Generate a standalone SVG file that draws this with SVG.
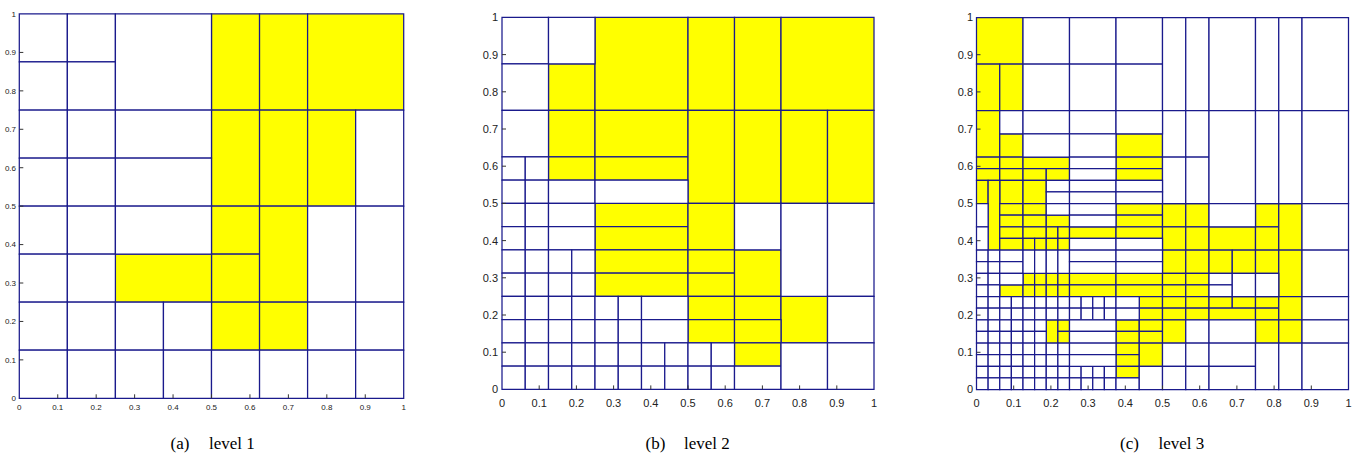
<svg xmlns="http://www.w3.org/2000/svg" width="1362" height="456" viewBox="0 0 1362 456">
<style>
.m rect{fill:#fff;stroke:#1a1a8c;stroke-width:1.25;vector-effect:non-scaling-stroke}
.m rect.y{fill:#ffff00}
.tk{stroke:#333;stroke-width:1;fill:none}
.la{font-family:"Liberation Sans",Arial,sans-serif;font-size:8px;fill:#222}
.lb{font-family:"Liberation Sans",Arial,sans-serif;font-size:11px;fill:#222}
.cap{font-family:"Liberation Serif","Times New Roman",serif;font-size:17px;fill:#000}
</style>
<rect width="1362" height="456" fill="#fff"/>
<!-- Panel a -->
<g id="panel-a">
<g class="m" transform="translate(19.3,398.3) scale(48.05,-48.05)">
<rect class="y" x="4" y="6" width="1" height="2"/><rect class="y" x="5" y="6" width="1" height="2"/><rect class="y" x="6" y="6" width="2" height="2"/>
<rect class="y" x="4" y="4" width="1" height="2"/><rect class="y" x="5" y="4" width="1" height="2"/><rect class="y" x="6" y="4" width="1" height="2"/>
<rect class="y" x="4" y="3" width="1" height="1"/><rect class="y" x="4" y="2" width="1" height="1"/><rect class="y" x="5" y="2" width="1" height="2"/>
<rect class="y" x="4" y="1" width="1" height="1"/><rect class="y" x="5" y="1" width="1" height="1"/><rect class="y" x="2" y="2" width="2" height="1"/>
<rect x="0" y="7" width="1" height="1"/><rect x="1" y="7" width="1" height="1"/><rect x="0" y="6" width="1" height="1"/><rect x="1" y="6" width="1" height="1"/><rect x="2" y="6" width="2" height="2"/>
<rect x="0" y="5" width="1" height="1"/><rect x="1" y="5" width="1" height="1"/><rect x="2" y="5" width="2" height="1"/>
<rect x="0" y="4" width="1" height="1"/><rect x="1" y="4" width="1" height="1"/><rect x="2" y="4" width="2" height="1"/>
<rect x="7" y="4" width="1" height="2"/>
<rect x="0" y="3" width="1" height="1"/><rect x="1" y="3" width="1" height="1"/><rect x="2" y="3" width="2" height="1"/>
<rect x="0" y="2" width="1" height="1"/><rect x="1" y="2" width="1" height="1"/>
<rect x="6" y="2" width="1" height="2"/><rect x="7" y="2" width="1" height="2"/>
<rect x="0" y="1" width="1" height="1"/><rect x="1" y="1" width="1" height="1"/><rect x="2" y="1" width="1" height="1"/><rect x="3" y="1" width="1" height="1"/><rect x="6" y="1" width="1" height="1"/><rect x="7" y="1" width="1" height="1"/>
<rect x="0" y="0" width="1" height="1"/><rect x="1" y="0" width="1" height="1"/><rect x="2" y="0" width="1" height="1"/><rect x="3" y="0" width="1" height="1"/><rect x="4" y="0" width="1" height="1"/><rect x="5" y="0" width="1" height="1"/><rect x="6" y="0" width="1" height="1"/><rect x="7" y="0" width="1" height="1"/>
</g>
<path class="tk" d="M57.74 398.3v-4M96.18 398.3v-4M134.62 398.3v-4M173.06 398.3v-4M211.5 398.3v-4M249.94 398.3v-4M288.38 398.3v-4M326.82 398.3v-4M365.26 398.3v-4M19.3 359.87h4M19.3 321.44h4M19.3 283.01h4M19.3 244.58h4M19.3 206.15h4M19.3 167.72h4M19.3 129.29h4M19.3 90.86h4M19.3 52.43h4"/>
<g class="la" text-anchor="end">
<text x="16" y="401">0</text><text x="16" y="362.6">0.1</text><text x="16" y="324.2">0.2</text><text x="16" y="285.8">0.3</text><text x="16" y="247.3">0.4</text><text x="16" y="208.9">0.5</text><text x="16" y="170.5">0.6</text><text x="16" y="132">0.7</text><text x="16" y="93.6">0.8</text><text x="16" y="55.2">0.9</text><text x="16" y="16.8">1</text>
</g>
<g class="la" text-anchor="middle">
<text x="19.3" y="409.5">0</text><text x="57.74" y="409.5">0.1</text><text x="96.18" y="409.5">0.2</text><text x="134.62" y="409.5">0.3</text><text x="173.06" y="409.5">0.4</text><text x="211.5" y="409.5">0.5</text><text x="249.94" y="409.5">0.6</text><text x="288.38" y="409.5">0.7</text><text x="326.82" y="409.5">0.8</text><text x="365.26" y="409.5">0.9</text><text x="403.7" y="409.5">1</text>
</g>
<text class="cap" x="170.5" y="449">(a) <tspan x="209">level 1</tspan></text>
</g>
<!-- Panel b -->
<g id="panel-b">
<g class="m" transform="translate(502,389.4) scale(23.25,-23.25)">
<rect class="y" x="2" y="12" width="2" height="2"/><rect class="y" x="4" y="12" width="4" height="4"/><rect class="y" x="8" y="12" width="2" height="4"/><rect class="y" x="10" y="12" width="2" height="4"/><rect class="y" x="12" y="12" width="4" height="4"/>
<rect class="y" x="2" y="10" width="2" height="2"/><rect class="y" x="2" y="9" width="2" height="1"/><rect class="y" x="4" y="10" width="4" height="2"/><rect class="y" x="4" y="9" width="4" height="1"/>
<rect class="y" x="8" y="8" width="2" height="4"/><rect class="y" x="10" y="8" width="2" height="4"/><rect class="y" x="12" y="8" width="2" height="4"/><rect class="y" x="14" y="8" width="2" height="4"/>
<rect class="y" x="4" y="7" width="4" height="1"/><rect class="y" x="4" y="6" width="4" height="1"/><rect class="y" x="4" y="5" width="4" height="1"/><rect class="y" x="4" y="4" width="4" height="1"/>
<rect class="y" x="8" y="6" width="2" height="2"/><rect class="y" x="8" y="5" width="2" height="1"/><rect class="y" x="8" y="4" width="2" height="1"/><rect class="y" x="10" y="4" width="2" height="2"/>
<rect class="y" x="8" y="3" width="2" height="1"/><rect class="y" x="10" y="3" width="2" height="1"/><rect class="y" x="12" y="2" width="2" height="2"/><rect class="y" x="8" y="2" width="2" height="1"/><rect class="y" x="10" y="2" width="2" height="1"/><rect class="y" x="10" y="1" width="2" height="1"/>
<rect x="0" y="14" width="2" height="2"/><rect x="2" y="14" width="2" height="2"/><rect x="0" y="12" width="2" height="2"/><rect x="0" y="10" width="2" height="2"/>
<rect x="0" y="9" width="1" height="1"/><rect x="1" y="9" width="1" height="1"/><rect x="0" y="8" width="1" height="1"/><rect x="1" y="8" width="1" height="1"/><rect x="2" y="8" width="2" height="1"/><rect x="4" y="8" width="4" height="1"/>
<rect x="0" y="7" width="1" height="1"/><rect x="1" y="7" width="1" height="1"/><rect x="0" y="6" width="1" height="1"/><rect x="1" y="6" width="1" height="1"/><rect x="0" y="5" width="1" height="1"/><rect x="1" y="5" width="1" height="1"/><rect x="0" y="4" width="1" height="1"/><rect x="1" y="4" width="1" height="1"/>
<rect x="2" y="7" width="2" height="1"/><rect x="2" y="6" width="2" height="1"/><rect x="2" y="5" width="1" height="1"/><rect x="3" y="5" width="1" height="1"/><rect x="2" y="4" width="1" height="1"/><rect x="3" y="4" width="1" height="1"/>
<rect x="10" y="6" width="2" height="2"/><rect x="12" y="4" width="2" height="4"/><rect x="14" y="4" width="2" height="4"/>
<rect x="0" y="3" width="1" height="1"/><rect x="1" y="3" width="1" height="1"/><rect x="2" y="3" width="1" height="1"/><rect x="3" y="3" width="1" height="1"/><rect x="4" y="3" width="1" height="1"/><rect x="5" y="3" width="1" height="1"/><rect x="6" y="3" width="2" height="1"/>
<rect x="0" y="2" width="1" height="1"/><rect x="1" y="2" width="1" height="1"/><rect x="2" y="2" width="1" height="1"/><rect x="3" y="2" width="1" height="1"/><rect x="4" y="2" width="1" height="1"/><rect x="5" y="2" width="1" height="1"/><rect x="6" y="2" width="2" height="1"/>
<rect x="14" y="2" width="2" height="2"/>
<rect x="0" y="1" width="1" height="1"/><rect x="1" y="1" width="1" height="1"/><rect x="2" y="1" width="1" height="1"/><rect x="3" y="1" width="1" height="1"/><rect x="4" y="1" width="1" height="1"/><rect x="5" y="1" width="1" height="1"/><rect x="6" y="1" width="1" height="1"/><rect x="7" y="1" width="1" height="1"/><rect x="8" y="1" width="1" height="1"/><rect x="9" y="1" width="1" height="1"/>
<rect x="0" y="0" width="1" height="1"/><rect x="1" y="0" width="1" height="1"/><rect x="2" y="0" width="1" height="1"/><rect x="3" y="0" width="1" height="1"/><rect x="4" y="0" width="1" height="1"/><rect x="5" y="0" width="1" height="1"/><rect x="6" y="0" width="1" height="1"/><rect x="7" y="0" width="1" height="1"/><rect x="8" y="0" width="1" height="1"/><rect x="9" y="0" width="1" height="1"/><rect x="10" y="0" width="2" height="1"/>
<rect x="12" y="0" width="2" height="2"/><rect x="14" y="0" width="2" height="2"/>
</g>
<path class="tk" d="M539.2 389.4v-4M576.4 389.4v-4M613.6 389.4v-4M650.8 389.4v-4M688 389.4v-4M725.2 389.4v-4M762.4 389.4v-4M799.6 389.4v-4M836.8 389.4v-4M502 352.2h4M502 315h4M502 277.8h4M502 240.6h4M502 203.4h4M502 166.2h4M502 129h4M502 91.8h4M502 54.6h4"/>
<g class="lb" text-anchor="end">
<text x="498" y="393.3">0</text><text x="498" y="356.1">0.1</text><text x="498" y="318.9">0.2</text><text x="498" y="281.7">0.3</text><text x="498" y="244.5">0.4</text><text x="498" y="207.3">0.5</text><text x="498" y="170.1">0.6</text><text x="498" y="132.9">0.7</text><text x="498" y="95.7">0.8</text><text x="498" y="58.5">0.9</text><text x="498" y="21.3">1</text>
</g>
<g class="lb" text-anchor="middle">
<text x="502" y="406.7">0</text><text x="539.2" y="406.7">0.1</text><text x="576.4" y="406.7">0.2</text><text x="613.6" y="406.7">0.3</text><text x="650.8" y="406.7">0.4</text><text x="688" y="406.7">0.5</text><text x="725.2" y="406.7">0.6</text><text x="762.4" y="406.7">0.7</text><text x="799.6" y="406.7">0.8</text><text x="836.8" y="406.7">0.9</text><text x="874" y="406.7">1</text>
</g>
<text class="cap" x="645.5" y="449">(b) <tspan x="684">level 2</tspan></text>
</g>
<!-- Panel c -->
<g id="panel-c">
<g class="m" transform="translate(976.5,389.5) scale(11.625,-11.625)">
<rect class="y" x="0" y="28" width="4" height="4"/><rect class="y" x="0" y="24" width="2" height="4"/><rect class="y" x="2" y="24" width="2" height="4"/>
<rect class="y" x="0" y="20" width="2" height="4"/><rect class="y" x="2" y="20" width="2" height="2"/><rect class="y" x="12" y="20" width="4" height="2"/>
<rect class="y" x="0" y="19" width="2" height="1"/><rect class="y" x="2" y="19" width="2" height="1"/><rect class="y" x="4" y="19" width="4" height="1"/><rect class="y" x="12" y="19" width="4" height="1"/>
<rect class="y" x="0" y="18" width="2" height="1"/><rect class="y" x="2" y="18" width="2" height="1"/><rect class="y" x="4" y="18" width="2" height="1"/><rect class="y" x="6" y="18" width="2" height="1"/><rect class="y" x="12" y="18" width="4" height="1"/>
<rect class="y" x="0" y="16" width="1" height="2"/><rect class="y" x="2" y="16" width="2" height="2"/><rect class="y" x="4" y="16" width="2" height="2"/>
<rect class="y" x="1" y="12" width="1" height="6"/>
<rect class="y" x="2" y="15" width="2" height="1"/><rect class="y" x="2" y="14" width="2" height="1"/><rect class="y" x="2" y="13" width="2" height="1"/><rect class="y" x="2" y="12" width="2" height="1"/>
<rect class="y" x="4" y="15" width="2" height="1"/><rect class="y" x="4" y="14" width="2" height="1"/><rect class="y" x="6" y="14" width="2" height="1"/>
<rect class="y" x="4" y="13" width="2" height="1"/><rect class="y" x="6" y="13" width="1" height="1"/><rect class="y" x="7" y="13" width="1" height="1"/>
<rect class="y" x="4" y="12" width="1" height="1"/><rect class="y" x="5" y="12" width="1" height="1"/><rect class="y" x="6" y="12" width="1" height="1"/><rect class="y" x="7" y="12" width="1" height="1"/>
<rect class="y" x="8" y="13" width="4" height="1"/>
<rect class="y" x="12" y="15" width="4" height="1"/><rect class="y" x="12" y="14" width="4" height="1"/><rect class="y" x="12" y="13" width="4" height="1"/>
<rect class="y" x="16" y="14" width="2" height="2"/><rect class="y" x="16" y="12" width="2" height="2"/><rect class="y" x="18" y="14" width="2" height="2"/><rect class="y" x="18" y="12" width="2" height="2"/>
<rect class="y" x="20" y="12" width="4" height="2"/><rect class="y" x="24" y="14" width="2" height="2"/><rect class="y" x="24" y="12" width="2" height="2"/><rect class="y" x="26" y="12" width="2" height="4"/>
<rect class="y" x="2" y="8" width="2" height="1"/>
<rect class="y" x="4" y="9" width="1" height="1"/><rect class="y" x="5" y="9" width="1" height="1"/><rect class="y" x="6" y="9" width="1" height="1"/><rect class="y" x="7" y="9" width="1" height="1"/>
<rect class="y" x="4" y="8" width="1" height="1"/><rect class="y" x="5" y="8" width="1" height="1"/><rect class="y" x="6" y="8" width="1" height="1"/><rect class="y" x="7" y="8" width="1" height="1"/>
<rect class="y" x="8" y="9" width="4" height="1"/><rect class="y" x="8" y="8" width="4" height="1"/><rect class="y" x="12" y="9" width="4" height="1"/><rect class="y" x="12" y="8" width="4" height="1"/>
<rect class="y" x="16" y="10" width="2" height="2"/><rect class="y" x="16" y="9" width="2" height="1"/><rect class="y" x="16" y="8" width="2" height="1"/>
<rect class="y" x="18" y="10" width="2" height="2"/><rect class="y" x="18" y="9" width="2" height="1"/><rect class="y" x="18" y="8" width="2" height="1"/>
<rect class="y" x="20" y="10" width="2" height="2"/><rect class="y" x="22" y="10" width="2" height="2"/><rect class="y" x="24" y="10" width="2" height="2"/><rect class="y" x="26" y="8" width="2" height="4"/>
<rect class="y" x="6" y="4" width="1" height="2"/><rect class="y" x="7" y="5" width="1" height="1"/><rect class="y" x="7" y="4" width="1" height="1"/>
<rect class="y" x="12" y="5" width="2" height="1"/><rect class="y" x="12" y="4" width="2" height="1"/>
<rect class="y" x="14" y="7" width="2" height="1"/><rect class="y" x="14" y="6" width="2" height="1"/><rect class="y" x="14" y="5" width="2" height="1"/><rect class="y" x="14" y="4" width="2" height="1"/>
<rect class="y" x="16" y="7" width="2" height="1"/><rect class="y" x="16" y="6" width="2" height="1"/><rect class="y" x="16" y="4" width="2" height="2"/>
<rect class="y" x="18" y="7" width="2" height="1"/><rect class="y" x="18" y="6" width="2" height="1"/>
<rect class="y" x="20" y="7" width="2" height="1"/><rect class="y" x="22" y="7" width="2" height="1"/><rect class="y" x="20" y="6" width="4" height="1"/>
<rect class="y" x="24" y="7" width="2" height="1"/><rect class="y" x="24" y="6" width="2" height="1"/><rect class="y" x="24" y="4" width="2" height="2"/>
<rect class="y" x="26" y="6" width="2" height="2"/><rect class="y" x="26" y="4" width="2" height="2"/>
<rect class="y" x="12" y="3" width="2" height="1"/><rect class="y" x="12" y="2" width="2" height="1"/><rect class="y" x="12" y="1" width="2" height="1"/><rect class="y" x="14" y="2" width="2" height="2"/>
<rect x="4" y="28" width="4" height="4"/><rect x="8" y="28" width="4" height="4"/><rect x="12" y="28" width="4" height="4"/><rect x="4" y="24" width="4" height="4"/><rect x="8" y="24" width="4" height="4"/><rect x="12" y="24" width="4" height="4"/>
<rect x="16" y="24" width="2" height="8"/><rect x="18" y="24" width="2" height="8"/><rect x="20" y="24" width="4" height="8"/><rect x="24" y="24" width="2" height="8"/><rect x="26" y="24" width="2" height="8"/><rect x="28" y="24" width="4" height="8"/>
<rect x="16" y="20" width="2" height="4"/><rect x="18" y="20" width="2" height="4"/><rect x="16" y="16" width="2" height="4"/><rect x="18" y="16" width="2" height="4"/><rect x="20" y="16" width="4" height="8"/><rect x="24" y="16" width="2" height="8"/><rect x="26" y="16" width="2" height="8"/><rect x="28" y="16" width="4" height="8"/>
<rect x="2" y="22" width="2" height="2"/><rect x="4" y="22" width="4" height="2"/><rect x="8" y="22" width="4" height="2"/><rect x="12" y="22" width="4" height="2"/><rect x="4" y="20" width="4" height="2"/><rect x="8" y="20" width="4" height="2"/>
<rect x="8" y="19" width="4" height="1"/><rect x="8" y="18" width="4" height="1"/>
<rect x="6" y="17" width="2" height="1"/><rect x="6" y="16" width="2" height="1"/><rect x="8" y="17" width="4" height="1"/><rect x="8" y="16" width="4" height="1"/><rect x="12" y="17" width="4" height="1"/><rect x="12" y="16" width="4" height="1"/>
<rect x="0" y="14" width="1" height="2"/><rect x="0" y="12" width="1" height="2"/><rect x="6" y="15" width="2" height="1"/>
<rect x="8" y="15" width="4" height="1"/><rect x="8" y="14" width="4" height="1"/><rect x="8" y="12" width="4" height="1"/><rect x="12" y="12" width="4" height="1"/>
<rect x="20" y="14" width="4" height="2"/><rect x="28" y="12" width="4" height="4"/>
<rect x="0" y="11" width="1" height="1"/><rect x="1" y="11" width="1" height="1"/><rect x="0" y="10" width="1" height="1"/><rect x="1" y="10" width="1" height="1"/><rect x="0" y="9" width="1" height="1"/><rect x="1" y="9" width="1" height="1"/><rect x="0" y="8" width="1" height="1"/><rect x="1" y="8" width="1" height="1"/>
<rect x="2" y="11" width="2" height="1"/><rect x="2" y="10" width="2" height="1"/><rect x="2" y="9" width="2" height="1"/>
<rect x="4" y="10" width="1" height="2"/><rect x="5" y="10" width="1" height="2"/><rect x="6" y="10" width="1" height="2"/><rect x="7" y="10" width="1" height="2"/>
<rect x="8" y="11" width="4" height="1"/><rect x="8" y="10" width="4" height="1"/><rect x="12" y="11" width="4" height="1"/><rect x="12" y="10" width="4" height="1"/>
<rect x="20" y="9" width="2" height="1"/><rect x="20" y="8" width="2" height="1"/><rect x="22" y="8" width="2" height="2"/><rect x="24" y="8" width="2" height="2"/><rect x="28" y="8" width="4" height="4"/>
<rect x="0" y="7" width="1" height="1"/><rect x="1" y="7" width="1" height="1"/><rect x="2" y="7" width="1" height="1"/><rect x="3" y="7" width="1" height="1"/><rect x="4" y="7" width="1" height="1"/><rect x="5" y="7" width="1" height="1"/><rect x="6" y="7" width="1" height="1"/><rect x="7" y="7" width="1" height="1"/><rect x="8" y="7" width="1" height="1"/><rect x="9" y="7" width="1" height="1"/><rect x="10" y="7" width="1" height="1"/><rect x="11" y="7" width="1" height="1"/>
<rect x="0" y="6" width="1" height="1"/><rect x="1" y="6" width="1" height="1"/><rect x="2" y="6" width="1" height="1"/><rect x="3" y="6" width="1" height="1"/><rect x="4" y="6" width="1" height="1"/><rect x="5" y="6" width="1" height="1"/><rect x="6" y="6" width="1" height="1"/><rect x="7" y="6" width="1" height="1"/><rect x="8" y="6" width="1" height="1"/><rect x="9" y="6" width="1" height="1"/><rect x="10" y="6" width="1" height="1"/><rect x="11" y="6" width="1" height="1"/>
<rect x="0" y="5" width="1" height="1"/><rect x="1" y="5" width="1" height="1"/><rect x="2" y="5" width="1" height="1"/><rect x="3" y="5" width="1" height="1"/><rect x="4" y="5" width="1" height="1"/><rect x="5" y="5" width="1" height="1"/>
<rect x="0" y="4" width="1" height="1"/><rect x="1" y="4" width="1" height="1"/><rect x="2" y="4" width="1" height="1"/><rect x="3" y="4" width="1" height="1"/><rect x="4" y="4" width="1" height="1"/><rect x="5" y="4" width="1" height="1"/>
<rect x="8" y="5" width="4" height="1"/><rect x="8" y="4" width="4" height="1"/>
<rect x="12" y="7" width="2" height="1"/><rect x="12" y="6" width="2" height="1"/>
<rect x="18" y="4" width="2" height="2"/><rect x="20" y="4" width="4" height="2"/><rect x="28" y="6" width="4" height="2"/><rect x="28" y="4" width="4" height="2"/>
<rect x="0" y="3" width="1" height="1"/><rect x="1" y="3" width="1" height="1"/><rect x="2" y="3" width="1" height="1"/><rect x="3" y="3" width="1" height="1"/><rect x="4" y="3" width="1" height="1"/><rect x="5" y="3" width="1" height="1"/><rect x="6" y="3" width="1" height="1"/><rect x="7" y="3" width="1" height="1"/>
<rect x="0" y="2" width="1" height="1"/><rect x="1" y="2" width="1" height="1"/><rect x="2" y="2" width="1" height="1"/><rect x="3" y="2" width="1" height="1"/><rect x="4" y="2" width="1" height="1"/><rect x="5" y="2" width="1" height="1"/><rect x="6" y="2" width="1" height="1"/><rect x="7" y="2" width="1" height="1"/>
<rect x="0" y="1" width="1" height="1"/><rect x="1" y="1" width="1" height="1"/><rect x="2" y="1" width="1" height="1"/><rect x="3" y="1" width="1" height="1"/><rect x="4" y="1" width="1" height="1"/><rect x="5" y="1" width="1" height="1"/><rect x="6" y="1" width="1" height="1"/><rect x="7" y="1" width="1" height="1"/><rect x="8" y="1" width="1" height="1"/><rect x="9" y="1" width="1" height="1"/><rect x="10" y="1" width="1" height="1"/><rect x="11" y="1" width="1" height="1"/>
<rect x="0" y="0" width="1" height="1"/><rect x="1" y="0" width="1" height="1"/><rect x="2" y="0" width="1" height="1"/><rect x="3" y="0" width="1" height="1"/><rect x="4" y="0" width="1" height="1"/><rect x="5" y="0" width="1" height="1"/><rect x="6" y="0" width="1" height="1"/><rect x="7" y="0" width="1" height="1"/><rect x="8" y="0" width="1" height="1"/><rect x="9" y="0" width="1" height="1"/><rect x="10" y="0" width="1" height="1"/><rect x="11" y="0" width="1" height="1"/>
<rect x="8" y="3" width="4" height="1"/><rect x="8" y="2" width="4" height="1"/>
<rect x="12" y="0" width="2" height="1"/><rect x="14" y="0" width="2" height="2"/>
<rect x="16" y="2" width="2" height="2"/><rect x="18" y="2" width="2" height="2"/><rect x="20" y="2" width="4" height="2"/><rect x="16" y="0" width="2" height="2"/><rect x="18" y="0" width="2" height="2"/><rect x="20" y="0" width="4" height="2"/>
<rect x="24" y="0" width="2" height="4"/><rect x="26" y="0" width="2" height="4"/><rect x="28" y="0" width="4" height="4"/>
</g>
<path class="tk" d="M1013.7 389.5v-4M1050.9 389.5v-4M1088.1 389.5v-4M1125.3 389.5v-4M1162.5 389.5v-4M1199.7 389.5v-4M1236.9 389.5v-4M1274.1 389.5v-4M1311.3 389.5v-4M976.5 352.3h4M976.5 315.1h4M976.5 277.9h4M976.5 240.7h4M976.5 203.5h4M976.5 166.3h4M976.5 129.1h4M976.5 91.9h4M976.5 54.7h4"/>
<g class="lb" text-anchor="end">
<text x="973" y="393.4">0</text><text x="973" y="356.2">0.1</text><text x="973" y="319">0.2</text><text x="973" y="281.8">0.3</text><text x="973" y="244.6">0.4</text><text x="973" y="207.4">0.5</text><text x="973" y="170.2">0.6</text><text x="973" y="133">0.7</text><text x="973" y="95.8">0.8</text><text x="973" y="58.6">0.9</text><text x="973" y="21.4">1</text>
</g>
<g class="lb" text-anchor="middle">
<text x="976.5" y="406.7">0</text><text x="1013.7" y="406.7">0.1</text><text x="1050.9" y="406.7">0.2</text><text x="1088.1" y="406.7">0.3</text><text x="1125.3" y="406.7">0.4</text><text x="1162.5" y="406.7">0.5</text><text x="1199.7" y="406.7">0.6</text><text x="1236.9" y="406.7">0.7</text><text x="1274.1" y="406.7">0.8</text><text x="1311.3" y="406.7">0.9</text><text x="1348.5" y="406.7">1</text>
</g>
<text class="cap" x="1120" y="449">(c) <tspan x="1158.5">level 3</tspan></text>
</g>
</svg>
